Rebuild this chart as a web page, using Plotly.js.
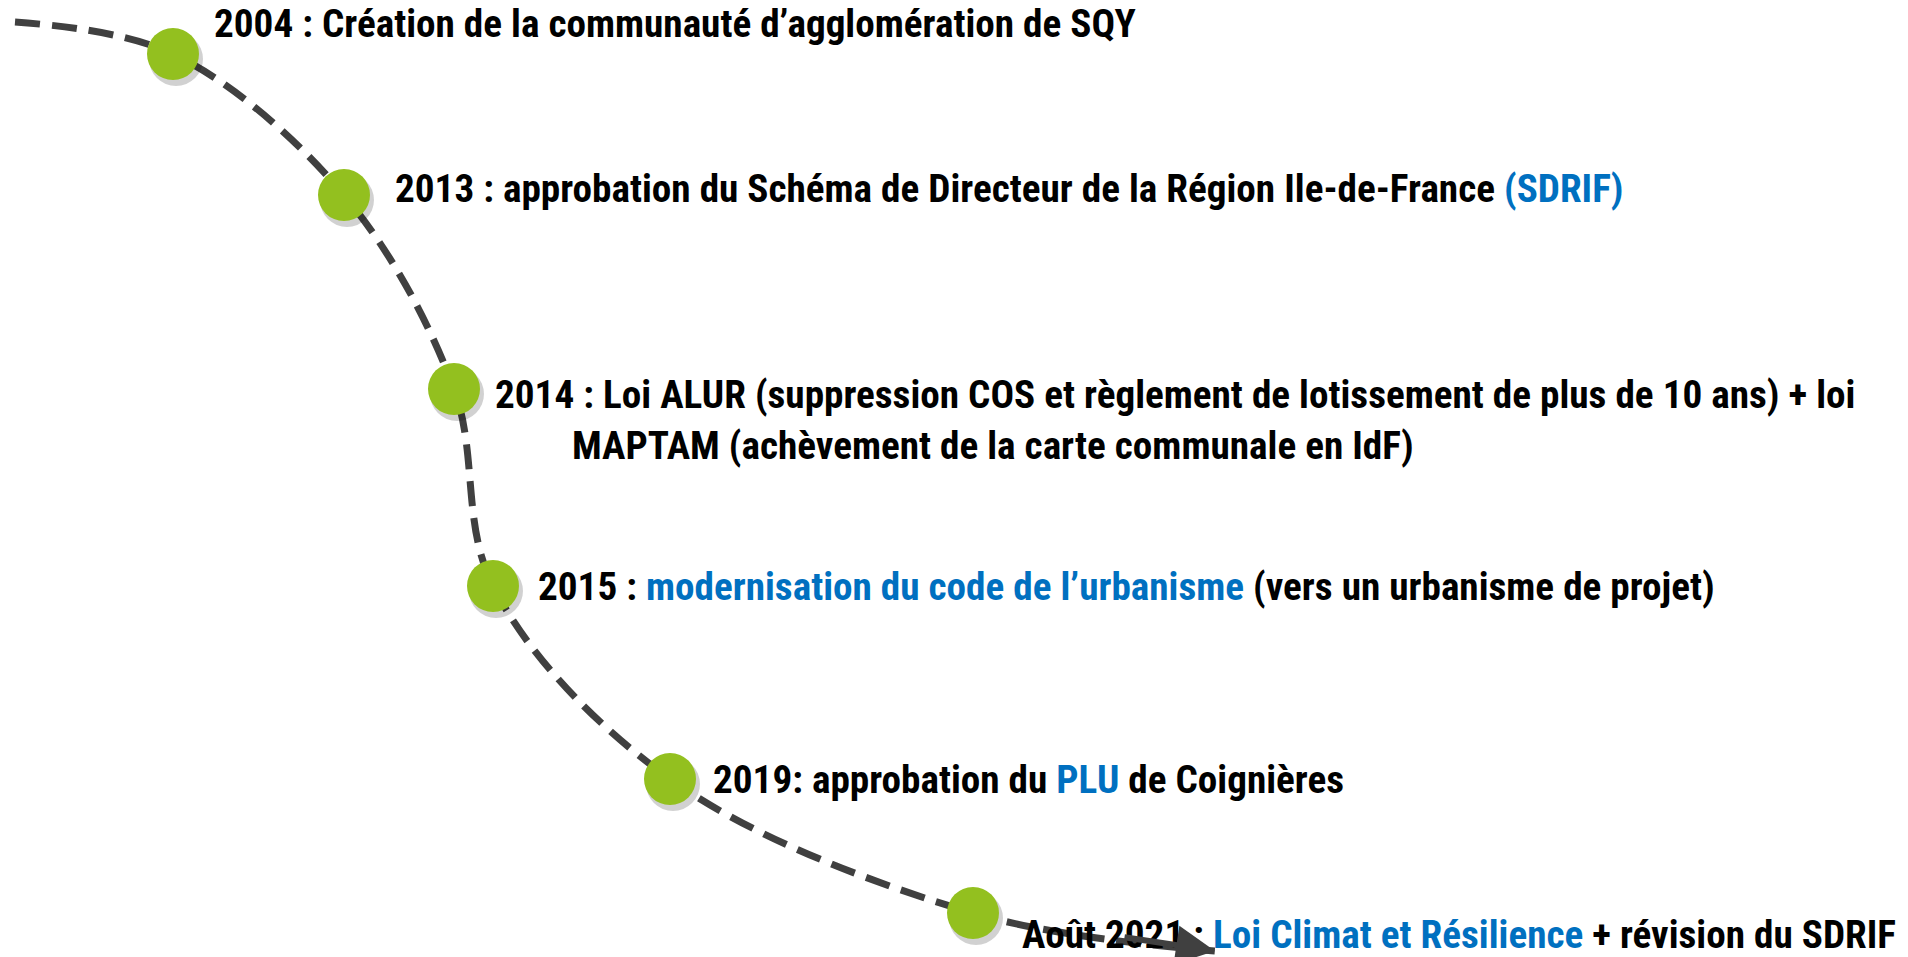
<!DOCTYPE html>
<html>
<head>
<meta charset="utf-8">
<script src="https://cdn.plot.ly/plotly-3.0.1.min.js"></script>
<style>
html,body{margin:0;padding:0;background:#fff;}
#chart{width:1908px;height:957px;}
</style>
</head>
<body>
<div id="chart"></div>
<script>
// Timeline path (pixel-like coordinates, y downward)
const pathX = [15, 173, 344, 454, 493, 670, 973, 1215];
const pathY = [22, 54, 195, 389, 586, 779, 913, 951];

// Event dots
const eventX = [173, 344, 454, 493, 670, 973];
const eventY = [54, 195, 389, 586, 779, 913];

// Label anchors
const labelX = [212, 393, 493, 570, 536, 711, 1020];
const labelY = [24, 189, 395, 446, 587, 780, 935];
const BLUE = '#0070C0';
const labels = [
  "2004 : Création de la communauté d’agglomération de SQY",
  "2013 : approbation du Schéma de Directeur de la Région Ile-de-France <span style='color:" + BLUE + "'>(SDRIF)</span>",
  "2014 : Loi ALUR (suppression COS et règlement de lotissement de plus de 10 ans) + loi",
  "MAPTAM (achèvement de la carte communale en IdF)",
  "2015 : <span style='color:" + BLUE + "'>modernisation du code de l’urbanisme</span> (vers un urbanisme de projet)",
  "2019: approbation du <span style='color:" + BLUE + "'>PLU</span> de Coignières",
  "Août 2021 : <span style='color:" + BLUE + "'>Loi Climat et Résilience</span> + révision du SDRIF"
];

const FONT = "'Roboto Condensed', 'Liberation Sans Narrow', 'DejaVu Sans Condensed', 'Arial Narrow', sans-serif";

const traces = [
  {
    x: pathX, y: pathY, mode: 'lines', type: 'scatter',
    line: {shape: 'spline', smoothing: 1.0, color: '#404040', width: 7, dash: '25px,12px'},
    hoverinfo: 'skip'
  },
  {
    x: eventX.map(v => v + 3), y: eventY.map(v => v + 5), mode: 'markers', type: 'scatter',
    marker: {size: 54, color: 'rgba(0,0,0,0.18)', line: {width: 0}},
    hoverinfo: 'skip'
  },
  {
    x: eventX, y: eventY, mode: 'markers', type: 'scatter',
    marker: {size: 52, color: '#93C01F', line: {width: 0}},
    hoverinfo: 'skip'
  }
];

const annotations = labels.map((t, i) => ({
  x: labelX[i], y: labelY[i], xref: 'x', yref: 'y',
  text: '<b>' + t + '</b>', showarrow: false,
  xanchor: 'left', yanchor: 'middle', align: 'left',
  font: {family: FONT, size: 39.2, color: '#000000'}
}));

// Arrow head at the end of the path
annotations.push({
  x: pathX[pathX.length - 1], y: pathY[pathY.length - 1],
  ax: pathX[pathX.length - 2] + 150, ay: pathY[pathY.length - 2] + 24,
  xref: 'x', yref: 'y', axref: 'x', ayref: 'y',
  showarrow: true, arrowhead: 2, arrowsize: 1.3, arrowwidth: 6, arrowcolor: '#404040', text: ''
});

const layout = {
  width: 1908, height: 957,
  margin: {l: 0, r: 0, t: 0, b: 0},
  paper_bgcolor: '#ffffff', plot_bgcolor: '#ffffff',
  showlegend: false,
  xaxis: {range: [0, 1908], visible: false, fixedrange: true},
  yaxis: {range: [957, 0], visible: false, fixedrange: true},
  annotations: annotations
};

Plotly.newPlot('chart', traces, layout, {displayModeBar: false, staticPlot: true});
</script>
</body>
</html>
